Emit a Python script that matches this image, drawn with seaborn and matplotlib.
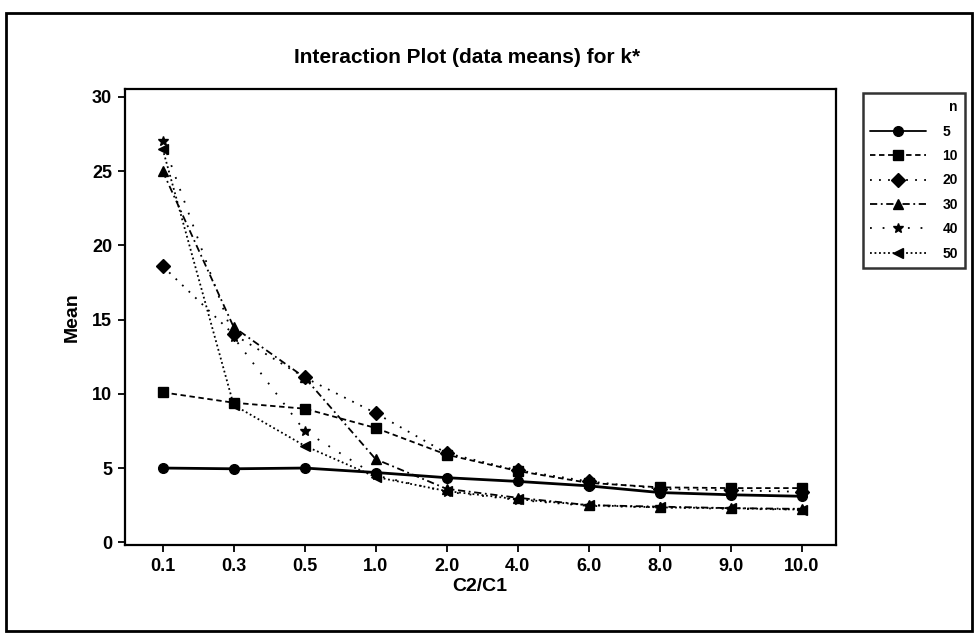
import matplotlib
matplotlib.use("Agg")
import matplotlib.pyplot as plt
import seaborn as sns
import pandas as pd

# data
ratios = ['0.1', '0.3', '0.5', '1.0', '2.0', '4.0', '6.0', '8.0', '9.0', '10.0']
n_levels = ['5', '10', '20', '30', '40', '50']
mean_n5 = [5.0, 4.95, 5.0, 4.7, 4.35, 4.1, 3.8, 3.35, 3.2, 3.1]
mean_n10 = [10.1, 9.4, 9.0, 7.7, 5.9, 4.8, 4.0, 3.7, 3.65, 3.65]
mean_n20 = [18.6, 14.0, 11.1, 8.7, 6.0, 4.85, 4.1, 3.6, 3.5, 3.4]
mean_n30 = [25.0, 14.5, 11.1, 5.6, 3.6, 3.0, 2.5, 2.4, 2.3, 2.25]
mean_n40 = [27.0, 13.8, 7.5, 4.5, 3.4, 2.85, 2.45, 2.35, 2.25, 2.2]
mean_n50 = [26.5, 9.25, 6.5, 4.4, 3.45, 2.9, 2.5, 2.35, 2.3, 2.2]

series = [mean_n5, mean_n10, mean_n20, mean_n30, mean_n40, mean_n50]
rows = []
for lvl, vals in zip(n_levels, series):
    for r, v in zip(ratios, vals):
        rows.append({'C2/C1': r, 'Mean': v, 'n': lvl})
df = pd.DataFrame(rows)

sns.set_style('white')
plt.rcParams['font.family'] = ['Liberation Sans Narrow', 'Liberation Sans', 'DejaVu Sans']
plt.rcParams['font.weight'] = 'bold'
plt.rcParams['text.color'] = 'black'
plt.rcParams['axes.labelcolor'] = 'black'
plt.rcParams['xtick.color'] = 'black'
plt.rcParams['ytick.color'] = 'black'

fig = plt.figure(figsize=(9.74, 6.34), dpi=100)
ax = fig.add_axes([0.128, 0.140, 0.730, 0.720])

markers = ['o', 's', 'D', '^', '*', '<']
linestyles = ['-', (0, (3, 2)), (0, (1, 4)), (0, (4, 2, 1, 2)), (0, (1, 6)), (0, (1, 1.5))]

sns.pointplot(data=df, x='C2/C1', y='Mean', hue='n', order=ratios, hue_order=n_levels,
              markers=markers, linestyles=linestyles, palette=['black'] * 6,
              errorbar=None, dodge=False, markersize=7, linewidth=1.3, ax=ax)

# solid line for n=5 drawn a bit heavier like the original
ax.lines[0].set_linewidth(2.0)

ax.set_xlim(-0.535, 9.48)
ax.set_ylim(-0.2, 30.55)
ax.set_yticks([0, 5, 10, 15, 20, 25, 30])
ax.tick_params(axis='both', direction='out', length=5, width=1.3, labelsize=13,
               bottom=True, left=True, pad=4, colors='black')
for lab in ax.get_xticklabels() + ax.get_yticklabels():
    lab.set_fontweight('bold')
for sp in ax.spines.values():
    sp.set_linewidth(1.6)
    sp.set_color('black')

ax.set_xlabel('C2/C1', fontsize=14, fontweight='bold', labelpad=2)
ax.set_ylabel('Mean', fontsize=14, fontweight='bold', labelpad=8)
fig.suptitle('Interaction Plot (data means) for k*', fontsize=15, fontweight='bold',
             x=0.48, y=0.925)

handles, labels = ax.get_legend_handles_labels()
ax.legend(handles, labels, title='n', loc='upper left', bbox_to_anchor=(0.879, 0.864),
          bbox_transform=fig.transFigure, frameon=True, fancybox=False, edgecolor='black',
          fontsize=10, title_fontsize=10, labelspacing=0.75, handlelength=4.0,
          handletextpad=1.2, borderpad=0.5, alignment='right')
leg = ax.get_legend()
leg.get_frame().set_linewidth(1.8)
for t in leg.get_texts():
    t.set_fontweight('bold')
leg.get_title().set_fontweight('bold')

# outer border around the whole picture
fig.patches.append(plt.Rectangle((0.006, 0.004), 0.992, 0.976, transform=fig.transFigure,
                                 fill=False, edgecolor='black', linewidth=2))

fig.savefig('out.png', dpi=100)
